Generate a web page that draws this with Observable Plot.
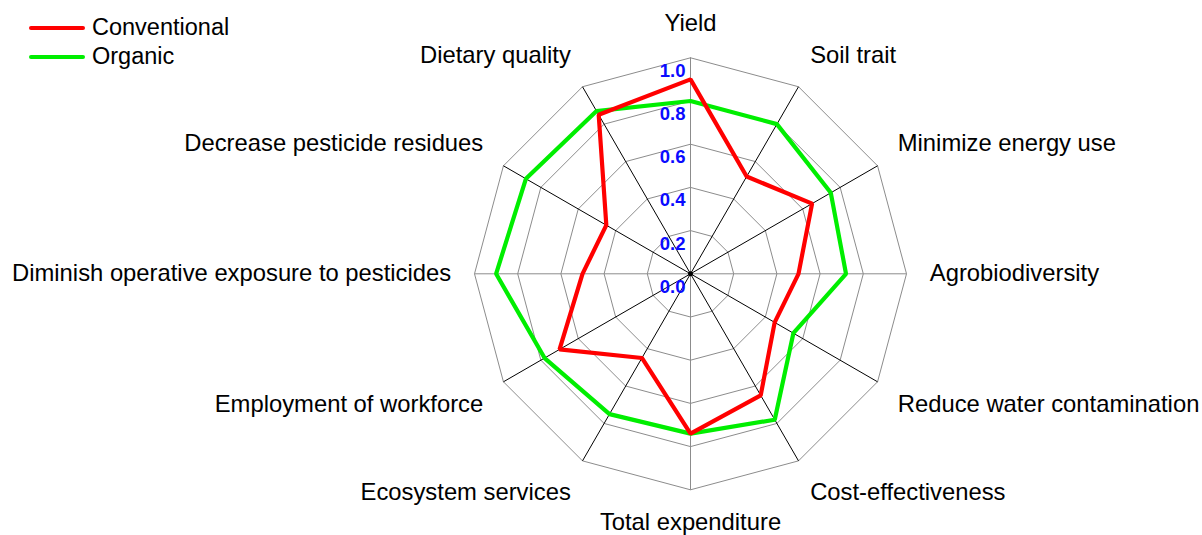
<!DOCTYPE html>
<html>
<head>
<meta charset="utf-8">
<script src="https://cdn.jsdelivr.net/npm/d3@7"></script>
<script src="https://cdn.jsdelivr.net/npm/@observablehq/plot@0.6"></script>
<style>
  body { margin: 0; background: #fff; }
  #wrap { position: relative; width: 1202px; height: 535px; font-family: "Liberation Sans", Arial, sans-serif; }
  #legend { position: absolute; left: 29px; top: 13px; font-size: 23.5px; color: #000; }
  .row { display: flex; align-items: center; height: 29px; }
  .sw { width: 56px; height: 4px; margin-right: 7px; border-radius: 2px; }
</style>
</head>
<body>
<div id="wrap">
  <div id="chart"></div>
  <div id="legend"></div>
</div>
<script>
const axes = ["Yield", "Soil trait", "Minimize energy use", "Agrobiodiversity",
  "Reduce water contamination", "Cost-effectiveness", "Total expenditure",
  "Ecosystem services", "Employment of workforce",
  "Diminish operative exposure to pesticides", "Decrease pesticide residues", "Dietary quality"];
const conventional = [0.90, 0.52, 0.65, 0.50, 0.45, 0.65, 0.74, 0.45, 0.70, 0.50, 0.45, 0.85];
const organic      = [0.80, 0.80, 0.75, 0.72, 0.55, 0.78, 0.74, 0.75, 0.78, 0.90, 0.88, 0.87];
const ticks = [0, 0.2, 0.4, 0.6, 0.8, 1.0];
const seriesNames = ["Conventional", "Organic"];
const seriesColors = ["#ff0000", "#00ee00"];

const n = axes.length;
const ang = i => i * 2 * Math.PI / n;
const px = (r, i) => r * Math.sin(ang(i));
const py = (r, i) => r * Math.cos(ang(i));

const rings = [];
ticks.slice(1).forEach(t => {
  for (let i = 0; i <= n; i++) rings.push({level: t, x: px(t, i % n), y: py(t, i % n)});
});
const spokes = axes.map((a, i) => ({i, x2: px(1, i), y2: py(1, i)}));
const series = vals => vals.map((v, i) => ({x: px(v, i), y: py(v, i)}));

const labelR = 1.108;
const lab = axes.map((a, i) => ({a, i, s: Math.sin(ang(i)), c: Math.cos(ang(i))}));
const font = "Liberation Sans, Arial, sans-serif";
function labelMark(filter, anchor, dy) {
  return Plot.text(lab.filter(filter), {
    x: d => labelR * d.s, y: d => labelR * d.c, text: "a",
    textAnchor: anchor, dy, fontSize: 23.8, fontFamily: font, fill: "#000"
  });
}

const chart = Plot.plot({
  width: 1202, height: 535, margin: 0,
  x: {domain: [-1, 1], range: [474, 906], axis: null},
  y: {domain: [-1, 1], range: [489.3, 57.3], axis: null},
  style: {background: "transparent"},
  marks: [
    Plot.line(rings, {x: "x", y: "y", z: "level", stroke: "#8c8c8c", strokeWidth: 1}),
    Plot.link(spokes, {x1: d => 0, y1: d => 0, x2: "x2", y2: "y2",
      stroke: d => d.i % 3 === 0 ? "#8c8c8c" : "#000", strokeWidth: 1}),
    Plot.dot([0], {x: d => 0, y: d => 0, r: 2.5, fill: "#000"}),
    Plot.line(series(organic), {x: "x", y: "y", curve: "linear-closed", stroke: seriesColors[1], strokeWidth: 4.2, strokeLinejoin: "miter"}),
    Plot.line(series(conventional), {x: "x", y: "y", curve: "linear-closed", stroke: seriesColors[0], strokeWidth: 4.2, strokeLinejoin: "miter"}),
    Plot.text(ticks, {x: d => 0, y: d => d, text: d => d.toFixed(1), textAnchor: "end",
      dx: -5, dy: 13, fill: "#0a0aff", fontWeight: "bold", fontSize: 18.5, fontFamily: font}),
    labelMark(d => Math.abs(d.s) < 0.1 && d.c > 0, "middle", -11),
    labelMark(d => Math.abs(d.s) < 0.1 && d.c < 0, "middle", 9),
    labelMark(d => d.s > 0.1 && d.c > 0.1, "start", -11),
    labelMark(d => d.s > 0.1 && Math.abs(d.c) <= 0.1, "start", 0),
    labelMark(d => d.s > 0.1 && d.c < -0.1, "start", 11),
    labelMark(d => d.s < -0.1 && d.c > 0.1, "end", -11),
    labelMark(d => d.s < -0.1 && Math.abs(d.c) <= 0.1, "end", 0),
    labelMark(d => d.s < -0.1 && d.c < -0.1, "end", 11)
  ]
});
document.getElementById("chart").appendChild(chart);

const legend = document.getElementById("legend");
seriesNames.forEach((name, k) => {
  const row = document.createElement("div");
  row.className = "row";
  const sw = document.createElement("div");
  sw.className = "sw";
  sw.style.background = seriesColors[k];
  const t = document.createElement("span");
  t.textContent = name;
  row.appendChild(sw); row.appendChild(t);
  legend.appendChild(row);
});
</script>
</body>
</html>
